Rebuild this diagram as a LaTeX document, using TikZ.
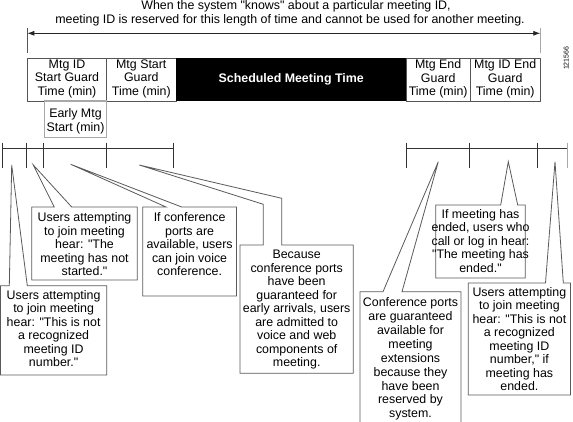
\documentclass[tikz,border=0pt]{standalone}
\usepackage{fontspec}
\setmainfont{Liberation Sans}[Ligatures=TeXOff]
\usetikzlibrary{arrows.meta}
\definecolor{boxline}{HTML}{555555}
\definecolor{cline}{HTML}{5A5A5A}
\definecolor{lightline}{HTML}{A8A8A8}
\begin{document}
\begin{tikzpicture}[x=1pt,y=-1pt,
  txt/.style={align=center,inner sep=0pt,font=\fontsize{12.4}{13.5}\selectfont},
  seg/.style={draw=boxline,line width=0.8pt},
  callout/.style={draw=cline,line width=0.8pt,fill=white,line join=miter},
  tl/.style={draw=black!80,line width=0.8pt},
  arr/.style={draw=black!85,line width=0.8pt,{Latex[length=7pt,width=5pt]}-{Latex[length=7pt,width=5pt]}}]
\useasboundingbox (0,0) rectangle (573,422);

% title
\node[txt,anchor=base] (t1) at (296,10) {When the system "knows" about a particular meeting ID,};
\node[txt,anchor=base] (t2) at (290,23.5) {meeting ID is reserved for this length of time and cannot be used for another meeting.};

% span arrow
\coordinate (aL) at (27.3,33.3);
\coordinate (aR) at (540.3,33.3);
\coordinate (aLt) at (27.3,28);
\coordinate (aLb) at (27.3,53);
\coordinate (aRt) at (540.3,28);
\coordinate (aRb) at (540.3,53);
\draw[draw=boxline,line width=0.8pt] (aLt) -- (aLb);
\draw[draw=lightline,line width=0.9pt] (aRt) -- (aRb);
\draw[arr] (aL) -- (aR);

% segment boxes
\draw[seg] (27.3,58.3) rectangle (106.7,101);
\draw[seg] (106.7,58.3) rectangle (176,101);
\fill[black] (176,58.3) rectangle (406.3,101);
\draw[seg] (406.3,58.3) rectangle (470,101);
\draw[seg] (470,58.3) rectangle (540.3,101);
\draw[draw=lightline,line width=1.2pt] (44.3,101) rectangle (106.7,137.3);

\node[txt,anchor=north] (b1) at (67,59.6) {Mtg ID\\Start Guard\\Time (min)};
\node[txt,anchor=north] (b2) at (141.3,59.6) {Mtg Start\\Guard\\Time (min)};
\node[txt,anchor=center,text=white,font=\fontsize{12.4}{13.5}\selectfont\bfseries] (b3) at (291.2,79.7) {Scheduled Meeting Time};
\node[txt,anchor=north] (b4) at (438.2,59.6) {Mtg End\\Guard\\Time (min)};
\node[txt,anchor=north] (b5) at (505.2,59.6) {Mtg ID End\\Guard\\Time (min)};
\node[txt,anchor=north] (b6) at (75.5,108.5) {Early Mtg\\Start (min)};

\node[rotate=90,inner sep=0pt,font=\fontsize{7}{8}\selectfont] (fig) at (566.3,58.3) {121566};

% timelines
\draw[tl] (2.7,148.3) -- (173.3,148.3);
\foreach \x in {2.7,26,43.3,106.7,173.3} \draw[tl] (\x,142.7) -- (\x,168.3);
\draw[tl] (406,148.3) -- (567.3,148.3);
\foreach \x in {406,469.5,537.3} \draw[tl] (\x,142.7) -- (\x,168.3);
\draw[draw=lightline,line width=0.9pt] (567.3,142.7) -- (567.3,168.3);

% tips
\coordinate (tA) at (11.7,165);
\coordinate (tB) at (33.3,165);
\coordinate (tC) at (70.7,164.3);
\coordinate (tD) at (139.3,165);
\coordinate (tE) at (438.3,161.7);
\coordinate (tF) at (508.3,161.7);
\coordinate (tG) at (555,161.7);

% callout D (drawn first, under C)
\draw[callout] (263.3,245) -- (263.3,204.3) -- (tD) -- (281.7,198.3) -- (281.7,245) -- (353.3,245) -- (353.3,373.3) -- (240,373.3) -- (240,245) -- cycle;
% callout A
\draw[callout] (9.3,285.7) -- (tA) -- (27.3,285.7) -- (106.7,285.7) -- (106.7,375) -- (0.6,375) -- (0.6,285.7) -- cycle;
% callout B
\draw[callout] (54.3,207) -- (tB) -- (71.7,207) -- (137.3,207) -- (137.3,280) -- (31.7,280) -- (31.7,207) -- cycle;
% callout C
\draw[callout] (166,207) -- (tC) -- (181.7,207) -- (236.5,207) -- (236.5,296) -- (142.7,296) -- (142.7,207) -- cycle;
% callout E
\draw[callout] (383,291.7) -- (tE) -- (402,291.7) -- (461,291.7) -- (461,430) -- (360,430) -- (360,291.7) -- cycle;
% callout F
\draw[callout] (500.7,205) -- (tF) -- (517.7,205) -- (525.3,205) -- (525.3,278) -- (435.7,278) -- (435.7,205) -- cycle;
% callout G
\draw[callout] (545.5,283) -- (tG) -- (563.3,283) -- (570.5,283) -- (570.5,395) -- (468.3,395) -- (468.3,283) -- cycle;

\node[txt,anchor=north] (cA) at (53.6,290.2) {Users attempting\\to join meeting\\hear: "This is not\\a recognized\\meeting ID\\number."};
\node[txt,anchor=north] (cB) at (84.5,212.5) {Users attempting\\to join meeting\\hear: "The\\meeting has not\\started."};
\node[txt,anchor=north] (cC) at (189.6,212.5) {If conference\\ports are\\available, users\\can join voice\\conference.};
\node[txt,anchor=north] (cD) at (296.7,250.2) {Because\\conference ports\\have been\\guaranteed for\\early arrivals, users\\are admitted to\\voice and web\\components of\\meeting.};
\node[txt,anchor=north,font=\fontsize{12.4}{13.9}\selectfont] (cE) at (410.5,297.5) {Conference ports\\are guaranteed\\available for\\meeting\\extensions\\because they\\have been\\reserved by\\system.};
\node[txt,anchor=north] (cF) at (480.5,209.2) {If meeting has\\ended, users who\\call or log in hear:\\"The meeting has\\ended."};
\node[txt,anchor=north] (cG) at (519.4,286.9) {Users attempting\\to join meeting\\hear: "This is not\\a recognized\\meeting ID\\number," if\\meeting has\\ended.};
\end{tikzpicture}
\end{document}
